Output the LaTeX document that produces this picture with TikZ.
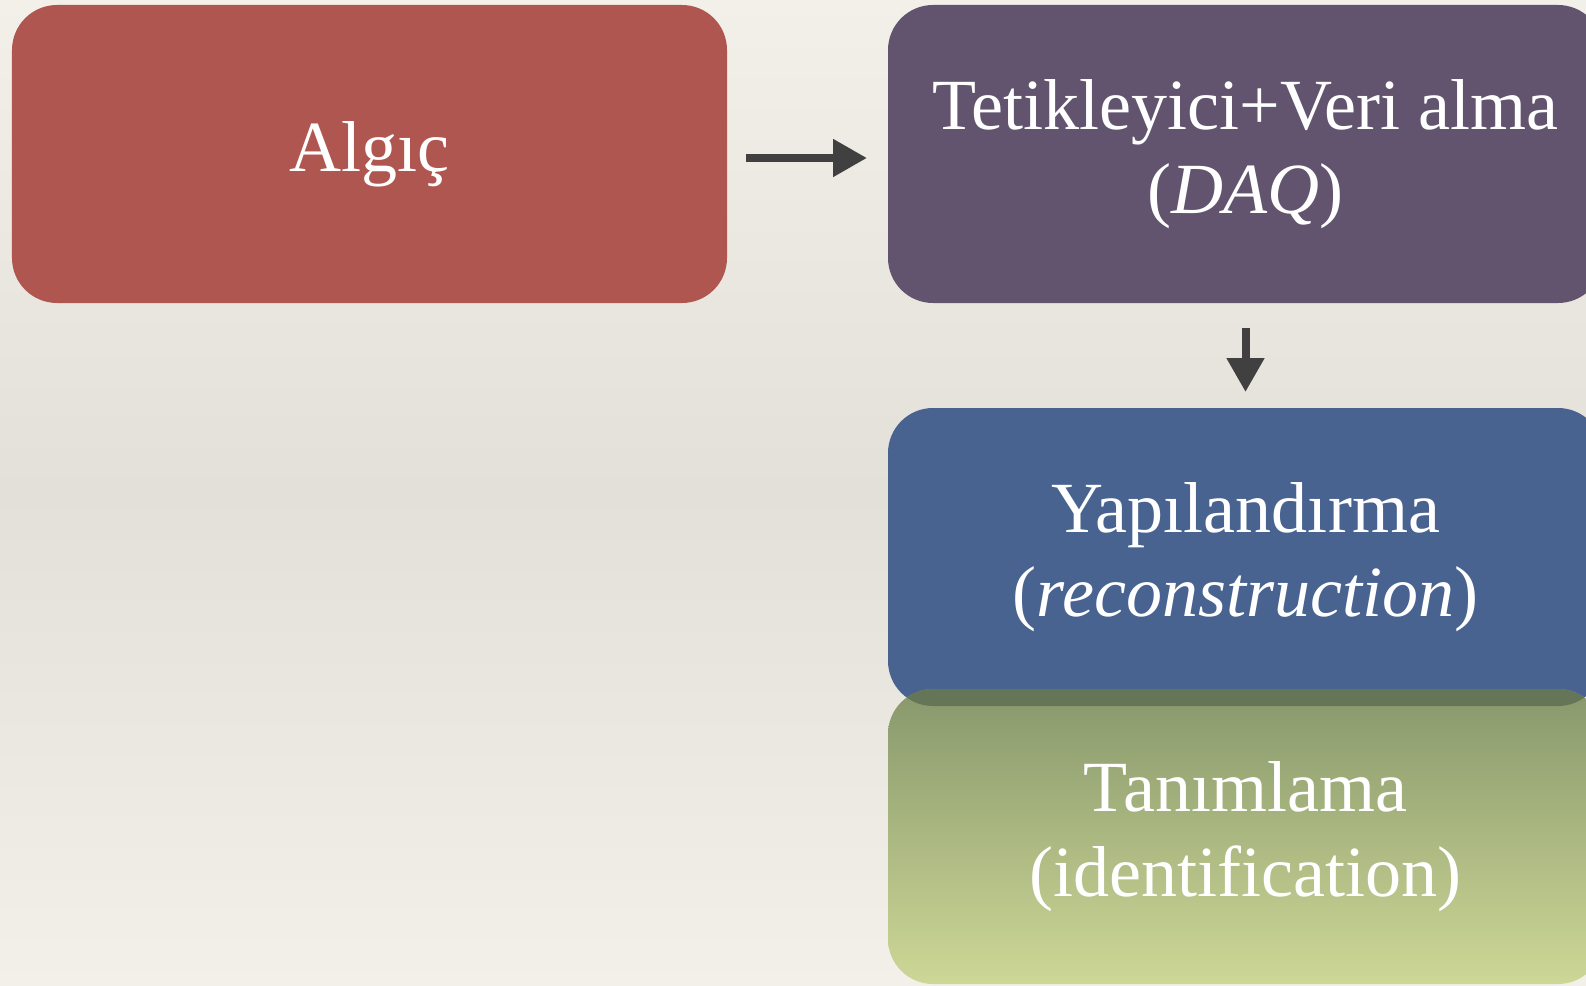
\documentclass[tikz,border=0pt]{standalone}
\usepackage{fontspec}
\setmainfont{Liberation Serif}
\usetikzlibrary{arrows.meta,positioning}
\definecolor{bgtop}{RGB}{243,240,233}
\definecolor{bgmid}{RGB}{227,224,218}
\definecolor{algred}{RGB}{176,86,80}
\definecolor{daqpurple}{RGB}{98,84,110}
\definecolor{recblue}{RGB}{73,99,145}
\definecolor{idgreentop}{RGB}{136,152,108}
\definecolor{idgreenbot}{RGB}{205,215,150}
\definecolor{overlapgreen}{RGB}{101,118,88}
\definecolor{arrgray}{RGB}{64,64,64}

\begin{document}
\begin{tikzpicture}[
  stage/.style={rounded corners=0.9cm, align=center, text=white, minimum width=14.3cm, minimum height=5.96cm, outer sep=0pt, inner sep=0pt, font=\fontsize{41}{48}\selectfont},
  arr/.style={-{Triangle[length=0.68cm, width=0.72cm]}, line width=0.16cm, arrgray}
]
\useasboundingbox (0,0) rectangle (31.72,-19.72);
\clip (0,0) rectangle (31.72,-19.72);
\shade[top color=bgtop, bottom color=bgtop, middle color=bgmid] (0,0) rectangle (31.72,-19.72);

\node[stage, fill=algred] (algic) at (7.39,-3.08) {Algıç};
\node[stage, fill=daqpurple, right=3.22cm of algic] (daq) {Tetikleyici+Veri alma\\(\textit{DAQ})};
\node[stage, fill=recblue, below=2.1cm of daq] (yap) {Yapılandırma\\(\textit{reconstruction})};
\node[stage, minimum height=5.9cm, top color=idgreentop, bottom color=idgreenbot, below=-0.34cm of yap] (tan) {Tanımlama\\(identification)};
% darker strip where the two boxes meet
\begin{scope}
  \clip[rounded corners=0.9cm] (yap.south west) rectangle (yap.north east);
  \fill[overlapgreen, rounded corners=0.9cm] (tan.south west) rectangle (tan.north east);
\end{scope}

\draw[arr, shorten <=0.38cm, shorten >=0.42cm] ([yshift=-0.08cm]algic.east) -- ([yshift=-0.08cm]daq.west);
\draw[arr, shorten <=0.5cm, shorten >=0.32cm] (daq) -- (yap);
\end{tikzpicture}
\end{document}
